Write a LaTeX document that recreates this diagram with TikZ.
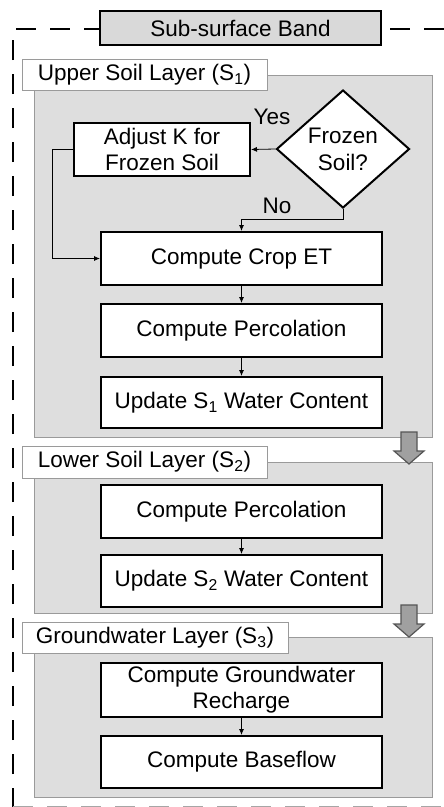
\documentclass[tikz,border=0pt]{standalone}
\usepackage{fontspec}
\setmainfont{Liberation Sans}
\usetikzlibrary{shapes.geometric,arrows.meta}
\definecolor{panelgray}{HTML}{DEDEDE}
\definecolor{titlegray}{HTML}{D9D9D9}
\definecolor{edgegray}{HTML}{9A9A9A}
\definecolor{arrowfill}{HTML}{A0A0A0}
\definecolor{arrowedge}{HTML}{555555}
\tikzset{
  stepbox/.style={draw=black, line width=2pt, fill=white, inner sep=0pt, align=center,
    font=\fontsize{22.5}{26}\selectfont},
  panel/.style={draw=edgegray, line width=1pt, fill=panelgray},
  layerlabel/.style={draw=edgegray, line width=1pt, fill=white, inner sep=0pt,
    font=\fontsize{22.5}{26}\selectfont},
  flow/.style={line width=0.8pt, -{Latex[length=6pt,width=5pt]}},
  bigarrow/.style={draw=arrowedge, line width=1.2pt, fill=arrowfill},
  lbl/.style={font=\fontsize{22.5}{26}\selectfont, inner sep=0pt}
}
\begin{document}
\begin{tikzpicture}[x=1pt,y=-1pt]
\useasboundingbox (0,0) rectangle (444,807);
\clip (0,0) rectangle (444,807);
% outer dashed band
\draw[line width=2.5pt, dash pattern=on 20pt off 14pt] (13,808) -- (13,29) -- (470,29);
\draw[line width=2.5pt, dash pattern=on 20pt off 14pt, draw=black!35] (13,807.5) -- (470,807.5);
\node[draw=black, line width=2pt, fill=titlegray, minimum width=281pt, minimum height=34pt,
  inner sep=0pt, font=\fontsize{22.5}{26}\selectfont] (title) at (240.5,28) {Sub-surface Band};

% panels
\node[panel, minimum width=398pt, minimum height=362pt, inner sep=0pt] (p1) at (233,256) {};
\node[layerlabel, minimum width=245pt, minimum height=31pt] (l1) at (144.5,75) {Upper Soil Layer (S\textsubscript{1})};
\node[panel, minimum width=398pt, minimum height=151pt, inner sep=0pt] (p2) at (233,537.5) {};
\node[layerlabel, minimum width=245pt, minimum height=32pt] (l2) at (144.5,462) {Lower Soil Layer (S\textsubscript{2})};
\node[panel, minimum width=398pt, minimum height=160pt, inner sep=0pt] (p3) at (233,717) {};
\node[layerlabel, minimum width=266pt, minimum height=31pt] (l3) at (155,637.5) {Groundwater Layer (S\textsubscript{3})};

% upper layer
\node[draw=black, line width=2pt, fill=white, shape=diamond, aspect=1.127,
  minimum width=133pt, minimum height=118pt, inner sep=0pt, align=center,
  font=\fontsize{22.5}{27}\selectfont] (dia) at (343,149) {\raisebox{-4pt}{Frozen}\\\raisebox{-4pt}{Soil?}};
\node[stepbox, minimum width=176pt, minimum height=53pt] (adj) at (162,149.5) {Adjust K for\\Frozen Soil};
\node[stepbox, minimum width=281pt, minimum height=53pt] (crop) at (241.5,258.5) {Compute Crop ET};
\node[stepbox, minimum width=281pt, minimum height=53pt] (perc1) at (241.5,330.5) {Compute Percolation};
\node[stepbox, minimum width=281pt, minimum height=51pt] (upd1) at (241.5,402.5) {Update S\textsubscript{1} Water Content};

\node[lbl] (yes) at (272,117) {Yes};
\node[lbl] (no) at (277,206) {No};
\coordinate (nocorner) at (343,219);
\coordinate (nocorner2) at (241.5,219);
\coordinate (adjcorner) at (52,149.5);
\coordinate (adjcorner2) at (52,258.5);

\draw[flow] (dia.west) -- (adj.east);
\draw[flow] (dia.south) -- (nocorner) -- (nocorner2) -- (crop.north);
\draw[flow] (adj.west) -- (adjcorner) -- (adjcorner2) -- (crop.west);
\draw[flow] (crop.south) -- (perc1.north);
\draw[flow] (perc1.south) -- (upd1.north);

% lower layer
\node[stepbox, minimum width=281pt, minimum height=53pt] (perc2) at (241.5,511.5) {Compute Percolation};
\node[stepbox, minimum width=281pt, minimum height=52pt] (upd2) at (241.5,581) {Update S\textsubscript{2} Water Content};
\draw[flow] (perc2.south) -- (upd2.north);

% groundwater layer
\node[stepbox, minimum width=281pt, minimum height=54pt] (gw) at (241.5,690) {Compute Groundwater\\Recharge};
\node[stepbox, minimum width=281pt, minimum height=52pt] (base) at (241.5,762) {Compute Baseflow};
\draw[flow] (gw.south) -- (base.north);

% big arrows between layers
\draw[bigarrow] (401,432) -- (417,432) -- (417,451) -- (424,451) -- (409,464) -- (394,451) -- (401,451) -- cycle;
\draw[bigarrow] (401,605) -- (417,605) -- (417,624) -- (424,624) -- (409,637) -- (394,624) -- (401,624) -- cycle;
\end{tikzpicture}
\end{document}
